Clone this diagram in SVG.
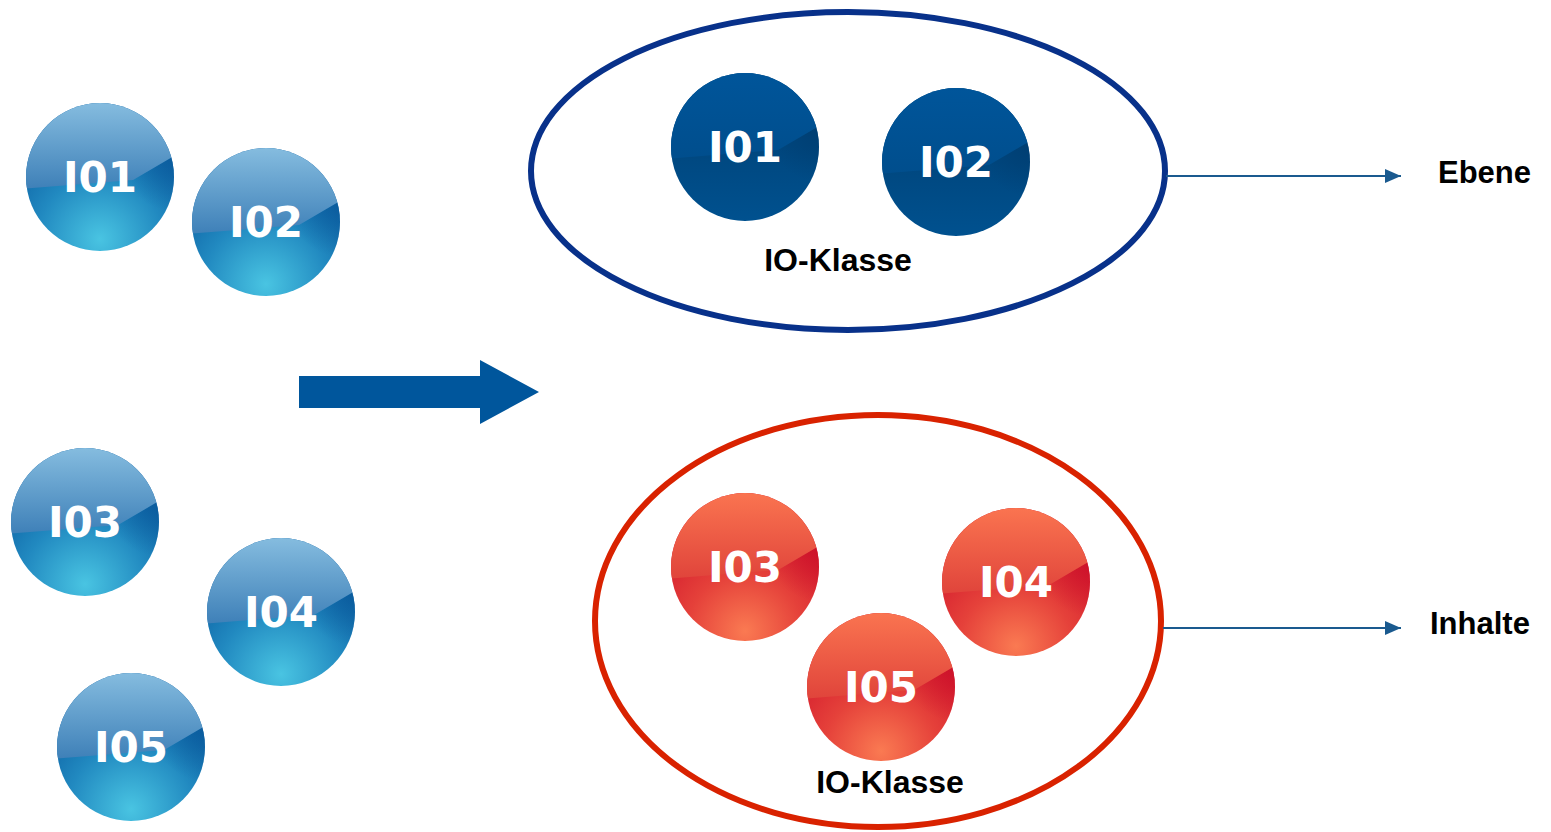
<svg xmlns="http://www.w3.org/2000/svg" xmlns:xlink="http://www.w3.org/1999/xlink" width="1551" height="832" viewBox="0 0 1551 832">
  <style>
    .ball-label { font-family: "DejaVu Sans", "Liberation Sans", sans-serif; font-weight: bold; font-size: 42px; fill: #ffffff; text-anchor: middle; }
    .class-label { font-family: "Liberation Sans", Arial, sans-serif; font-weight: bold; font-size: 32px; fill: #000000; text-anchor: middle; }
    .side-label { font-family: "Liberation Sans", Arial, sans-serif; font-weight: bold; font-size: 31px; fill: #000000; }
    .link { stroke: #1a5a8f; stroke-width: 2; fill: none; marker-end: url(#arrowHead); }
  </style>
  <defs>
    <clipPath id="ballClip"><circle cx="0" cy="0" r="74"/></clipPath>
    <!-- glossy upper half, tilted split -->
    <polygon id="upperCap" points="-80,-80 80,-80 80,-24 74,-21 33,3 -80,12"/>
    <!-- lower half, used for the darker shading near the right end of the split -->
    <polygon id="lowerPart" points="-80,12 33,3 74,-21 80,-24 80,80 -80,80"/>

    <radialGradient id="blueLow" cx="0" cy="62" r="115" gradientUnits="userSpaceOnUse">
      <stop offset="0" stop-color="#49c4e2"/>
      <stop offset="0.55" stop-color="#2189c0"/>
      <stop offset="1" stop-color="#0b5fa2"/>
    </radialGradient>
    <linearGradient id="blueHigh" x1="0" y1="-74" x2="0" y2="12" gradientUnits="userSpaceOnUse">
      <stop offset="0" stop-color="#85bcdf"/>
      <stop offset="1" stop-color="#3e80b8"/>
    </linearGradient>
    <radialGradient id="blueShade" cx="76" cy="-20" r="55" gradientUnits="userSpaceOnUse">
      <stop offset="0" stop-color="#0a5a9c" stop-opacity="0.85"/>
      <stop offset="1" stop-color="#0a5a9c" stop-opacity="0"/>
    </radialGradient>

    <linearGradient id="navyLow" x1="0" y1="0" x2="0" y2="74" gradientUnits="userSpaceOnUse">
      <stop offset="0" stop-color="#00477f"/>
      <stop offset="1" stop-color="#00518f"/>
    </linearGradient>
    <linearGradient id="navyHigh" x1="0" y1="-74" x2="0" y2="12" gradientUnits="userSpaceOnUse">
      <stop offset="0" stop-color="#00559a"/>
      <stop offset="1" stop-color="#004e8d"/>
    </linearGradient>
    <radialGradient id="navyShade" cx="76" cy="-20" r="55" gradientUnits="userSpaceOnUse">
      <stop offset="0" stop-color="#003a6c" stop-opacity="0.7"/>
      <stop offset="1" stop-color="#003a6c" stop-opacity="0"/>
    </radialGradient>

    <radialGradient id="redLow" cx="0" cy="64" r="115" gradientUnits="userSpaceOnUse">
      <stop offset="0" stop-color="#fa7a52"/>
      <stop offset="0.5" stop-color="#e5413a"/>
      <stop offset="1" stop-color="#d2182c"/>
    </radialGradient>
    <linearGradient id="redHigh" x1="0" y1="-74" x2="0" y2="12" gradientUnits="userSpaceOnUse">
      <stop offset="0" stop-color="#fa7450"/>
      <stop offset="1" stop-color="#e0443b"/>
    </linearGradient>
    <radialGradient id="redShade" cx="76" cy="-20" r="55" gradientUnits="userSpaceOnUse">
      <stop offset="0" stop-color="#cc102a" stop-opacity="0.9"/>
      <stop offset="1" stop-color="#cc102a" stop-opacity="0"/>
    </radialGradient>

    <g id="ballBlue">
      <g clip-path="url(#ballClip)">
        <rect x="-80" y="-80" width="160" height="160" fill="url(#blueLow)"/>
        <use xlink:href="#lowerPart" fill="url(#blueShade)"/>
        <use xlink:href="#upperCap" fill="url(#blueHigh)"/>
      </g>
    </g>
    <g id="ballNavy">
      <g clip-path="url(#ballClip)">
        <rect x="-80" y="-80" width="160" height="160" fill="url(#navyLow)"/>
        <use xlink:href="#lowerPart" fill="url(#navyShade)"/>
        <use xlink:href="#upperCap" fill="url(#navyHigh)"/>
      </g>
    </g>
    <g id="ballRed">
      <g clip-path="url(#ballClip)">
        <rect x="-80" y="-80" width="160" height="160" fill="url(#redLow)"/>
        <use xlink:href="#lowerPart" fill="url(#redShade)"/>
        <use xlink:href="#upperCap" fill="url(#redHigh)"/>
      </g>
    </g>

    <marker id="arrowHead" markerWidth="16" markerHeight="14" refX="16" refY="7" orient="auto" markerUnits="userSpaceOnUse">
      <polygon points="0,0 16,7 0,14" fill="#1a5a8f"/>
    </marker>
  </defs>

  <rect width="1551" height="832" fill="#ffffff"/>

  <!-- loose objects -->
  <g id="loose-io1" transform="translate(100,177)"><use xlink:href="#ballBlue"/><text class="ball-label" x="0" y="15">I01</text></g>
  <g id="loose-io2" transform="translate(266,222)"><use xlink:href="#ballBlue"/><text class="ball-label" x="0" y="15">I02</text></g>
  <g id="loose-io3" transform="translate(85,522)"><use xlink:href="#ballBlue"/><text class="ball-label" x="0" y="15">I03</text></g>
  <g id="loose-io4" transform="translate(281,612)"><use xlink:href="#ballBlue"/><text class="ball-label" x="0" y="15">I04</text></g>
  <g id="loose-io5" transform="translate(131,747)"><use xlink:href="#ballBlue"/><text class="ball-label" x="0" y="15">I05</text></g>

  <!-- grouping arrow -->
  <g id="group-arrow">
    <polygon points="299,376 480,376 480,360 539,392 480,424 480,408 299,408" fill="#00569c"/>
  </g>

  <!-- class "Ebene" -->
  <g id="class-ebene">
    <ellipse cx="848" cy="171" rx="317" ry="159" fill="none" stroke="#08318a" stroke-width="6"/>
    <g id="class-io1" transform="translate(745,147)"><use xlink:href="#ballNavy"/><text class="ball-label" x="0" y="15">I01</text></g>
    <g id="class-io2" transform="translate(956,162)"><use xlink:href="#ballNavy"/><text class="ball-label" x="0" y="15">I02</text></g>
    <text class="class-label" x="838" y="271">IO-Klasse</text>
  </g>

  <!-- class "Inhalte" -->
  <g id="class-inhalte">
    <ellipse cx="878" cy="621" rx="283" ry="206" fill="none" stroke="#d92200" stroke-width="6"/>
    <g id="class-io3" transform="translate(745,567)"><use xlink:href="#ballRed"/><text class="ball-label" x="0" y="15">I03</text></g>
    <g id="class-io4" transform="translate(1016,582)"><use xlink:href="#ballRed"/><text class="ball-label" x="0" y="15">I04</text></g>
    <g id="class-io5" transform="translate(881,687)"><use xlink:href="#ballRed"/><text class="ball-label" x="0" y="15">I05</text></g>
    <text class="class-label" x="890" y="793">IO-Klasse</text>
  </g>

  <g id="label-ebene"><text class="side-label" x="1438" y="183">Ebene</text></g>
  <g id="label-inhalte"><text class="side-label" x="1430" y="634">Inhalte</text></g>

  <g id="connectors">
    <line class="link" x1="1166" y1="176" x2="1401" y2="176"/>
    <line class="link" x1="1163" y1="628" x2="1401" y2="628"/>
  </g>
</svg>
